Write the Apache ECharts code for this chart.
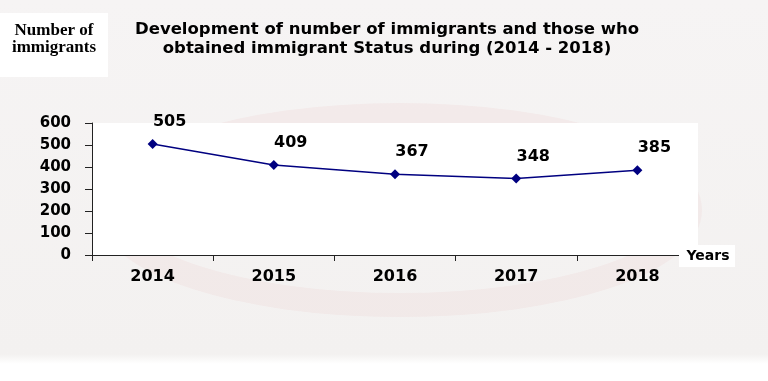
<!DOCTYPE html>
<html>
<head>
<meta charset="utf-8">
<script src="https://cdn.jsdelivr.net/npm/echarts@6/dist/echarts.min.js"></script>
<style>html,body{margin:0;padding:0;background:#fff}#c{width:768px;height:381px}</style>
</head>
<body>
<div id="c"></div>
<script>
const years = ['2014', '2015', '2016', '2017', '2018'];
const immigrants = [505, 409, 367, 348, 385];
const yTicks = { min: 0, max: 600, interval: 100 };

const chart = echarts.init(document.getElementById('c'), null, { renderer: 'canvas' });
const boldFont = { fontFamily: 'DejaVu Sans', fontWeight: 'bold', color: '#000' };

chart.setOption({
  animation: false,
  backgroundColor: {
    type: 'linear', x: 0, y: 0, x2: 0, y2: 1,
    colorStops: [
      { offset: 0, color: '#f6f4f4' },
      { offset: 0.93, color: '#f3f1f0' },
      { offset: 0.955, color: '#ffffff' },
      { offset: 1, color: '#ffffff' }
    ]
  },
  graphic: [
    { type: 'ellipse', shape: { cx: 400, cy: 210, rx: 290, ry: 95 }, style: { fill: 'none', stroke: 'rgba(230,140,140,0.07)', lineWidth: 24, shadowBlur: 20, shadowColor: 'rgba(230,140,140,0.12)' }, z: -10 },
    { type: 'rect', shape: { x: 0, y: 13, width: 108, height: 64 }, style: { fill: '#ffffff' }, z: -5 },
    { type: 'text', x: 54, y: 31, style: { text: 'Number of', font: 'bold 17px "Liberation Serif"', fill: '#000', textAlign: 'center', textVerticalAlign: 'middle' } },
    { type: 'text', x: 54, y: 48, style: { text: 'immigrants', font: 'bold 17px "Liberation Serif"', fill: '#000', textAlign: 'center', textVerticalAlign: 'middle' } },
    { type: 'text', x: 387, y: 30, style: { text: 'Development of number of immigrants and those who', font: 'bold 16.5px "DejaVu Sans"', fill: '#000', textAlign: 'center', textVerticalAlign: 'middle' } },
    { type: 'text', x: 387, y: 49, style: { text: 'obtained immigrant Status during (2014 - 2018)', font: 'bold 16.5px "DejaVu Sans"', fill: '#000', textAlign: 'center', textVerticalAlign: 'middle' } },
    { type: 'rect', shape: { x: 679, y: 245, width: 56, height: 22 }, style: { fill: '#ffffff' }, z: 50 },
    { type: 'text', x: 708, y: 256, z: 51, style: { text: 'Years', font: 'bold 14px "DejaVu Sans"', fill: '#000', textAlign: 'center', textVerticalAlign: 'middle' } }
  ],
  grid: { left: 92, right: 70, top: 123, bottom: 126, show: true, backgroundColor: '#ffffff', borderWidth: 0 },
  xAxis: {
    type: 'category',
    data: years,
    boundaryGap: true,
    axisLine: { lineStyle: { color: '#222', width: 1 } },
    axisTick: { show: true, length: 6, alignWithLabel: false, lineStyle: { color: '#222' } },
    axisLabel: Object.assign({ margin: 14, fontSize: 16 }, boldFont),
    splitLine: { show: false }
  },
  yAxis: {
    type: 'value',
    min: yTicks.min, max: yTicks.max, interval: yTicks.interval,
    axisLine: { show: true, lineStyle: { color: '#222', width: 1 } },
    axisTick: { show: true, length: 7, lineStyle: { color: '#222' } },
    axisLabel: Object.assign({ margin: 21, fontSize: 15 }, boldFont),
    splitLine: { show: false }
  },
  series: [{
    type: 'line',
    data: immigrants,
    symbol: 'diamond',
    symbolSize: 10,
    lineStyle: { color: '#000080', width: 1.5 },
    itemStyle: { color: '#000080' },
    label: Object.assign({
      show: true,
      position: 'inside',
      offset: [17, -22],
      fontSize: 16
    }, boldFont)
  }]
});
</script>
</body>
</html>
